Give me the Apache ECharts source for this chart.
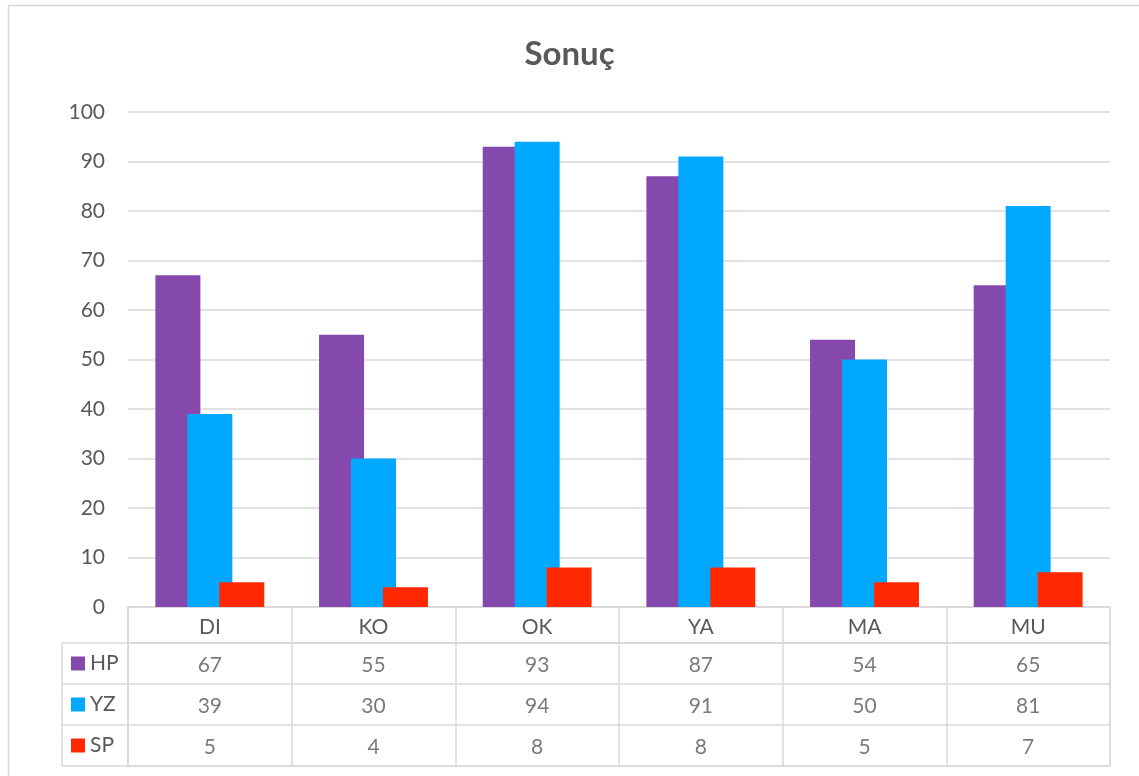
<!DOCTYPE html>
<html>
<head>
<meta charset="utf-8">
<script src="https://cdn.jsdelivr.net/npm/echarts@6/dist/echarts.min.js"></script>
<style>
html,body{margin:0;padding:0;background:#fff;}
#c{width:1139px;height:776px;}
</style>
</head>
<body>
<div id="c"></div>
<script>
const categories = ['DI', 'KO', 'OK', 'YA', 'MA', 'MU'];
const seriesNames = ['HP', 'YZ', 'SP'];
const HP = [67, 55, 93, 87, 54, 65];
const YZ = [39, 30, 94, 91, 50, 81];
const SP = [5, 4, 8, 8, 5, 7];
const yTicks = [0, 10, 20, 30, 40, 50, 60, 70, 80, 90, 100];
const title = 'Sonuç';

const colors = ['#8549ad', '#00a9ff', '#ff2800'];
const values = [HP, YZ, SP];
const FONT = 'Lato';
const TXT = '#595959';
const LINE = '#d9d9d9';

const L = 128, R = 1139 - 1110;
const chart = echarts.init(document.getElementById('c'));

const rich = {};
seriesNames.forEach((n, i) => {
  rich['sq' + i] = { width: 14, height: 14, backgroundColor: colors[i] };
});
rich.t = { fontFamily: FONT, fontSize: 21, color: TXT, padding: [0, 0, 0, 5] };

const tableData = [];
values.forEach((arr, s) => {
  arr.forEach((v, i) => tableData.push([i, s, v]));
});

chart.setOption({
  backgroundColor: '#fff',
  animation: false,
  color: colors,
  textStyle: { fontFamily: FONT },
  title: {
    text: title, left: 'center', top: 33,
    textStyle: { fontFamily: FONT, fontSize: 33, fontWeight: 'bold', color: TXT }
  },
  graphic: [{
    type: 'rect', left: 6, top: 3, silent: true,
    shape: { width: 1200, height: 800 },
    style: { fill: 'none', stroke: LINE, lineWidth: 1.5 }
  }],
  grid: [
    { left: L, right: R, top: 112, height: 495 },
    { left: L, right: R, top: 607, height: 36, show: true, borderColor: LINE, borderWidth: 1.5, backgroundColor: 'transparent' },
    { left: L, right: R, top: 643, height: 123, show: true, borderColor: LINE, borderWidth: 1.5, backgroundColor: 'transparent' }
  ],
  xAxis: [
    {
      gridIndex: 0, type: 'category', data: categories,
      axisLine: { show: true, lineStyle: { color: LINE, width: 1.5 } },
      axisTick: { show: false },
      axisLabel: { show: true, margin: 10, fontFamily: FONT, fontSize: 21, color: TXT }
    },
    {
      gridIndex: 1, type: 'category', data: categories,
      axisLine: { show: false }, axisTick: { show: false }, axisLabel: { show: false },
      splitLine: { show: true, lineStyle: { color: LINE, width: 1.5 } }
    },
    {
      gridIndex: 2, type: 'category', data: categories,
      axisLine: { show: false }, axisTick: { show: false }, axisLabel: { show: false },
      splitLine: { show: true, lineStyle: { color: LINE, width: 1.5 } }
    }
  ],
  yAxis: [
    {
      gridIndex: 0, type: 'value', min: yTicks[0], max: yTicks[yTicks.length - 1], interval: 10,
      axisLine: { show: false }, axisTick: { show: false },
      axisLabel: { margin: 23, fontFamily: FONT, fontSize: 21, color: TXT },
      splitLine: { show: true, lineStyle: { color: LINE, width: 1.5 } }
    },
    {
      gridIndex: 1, type: 'value', min: 0, max: 1, show: false
    },
    {
      gridIndex: 2, type: 'category', data: seriesNames, inverse: true,
      axisLine: { show: true, lineStyle: { color: LINE, width: 1.5 } },
      axisTick: { show: true, length: 66, lineStyle: { color: LINE, width: 1.5 } },
      axisLabel: {
        show: true, margin: 57, align: 'left',
        formatter: (v, i) => '{sq' + i + '|}{t|' + v + '}',
        rich: rich
      },
      splitLine: { show: true, lineStyle: { color: LINE, width: 1.5 } }
    },
    {
      gridIndex: 2, type: 'category', data: seriesNames, inverse: true, position: 'left', offset: 66,
      axisLine: { show: true, lineStyle: { color: LINE, width: 1.5 } },
      axisTick: { show: false }, axisLabel: { show: false }, splitLine: { show: false }
    }
  ],
  series: [
    ...seriesNames.map((n, s) => ({
      name: n, type: 'bar', xAxisIndex: 0, yAxisIndex: 0,
      data: values[s], barWidth: 45, barGap: '-29%',
      itemStyle: { color: colors[s] }
    })),
    {
      type: 'scatter', xAxisIndex: 2, yAxisIndex: 2,
      data: tableData, symbolSize: 1,
      itemStyle: { color: 'rgba(0,0,0,0)' },
      label: {
        show: true, position: 'inside', offset: [0, 2],
        formatter: p => String(p.value[2]),
        fontFamily: FONT, fontSize: 21, color: TXT
      }
    }
  ]
});
</script>
</body>
</html>
